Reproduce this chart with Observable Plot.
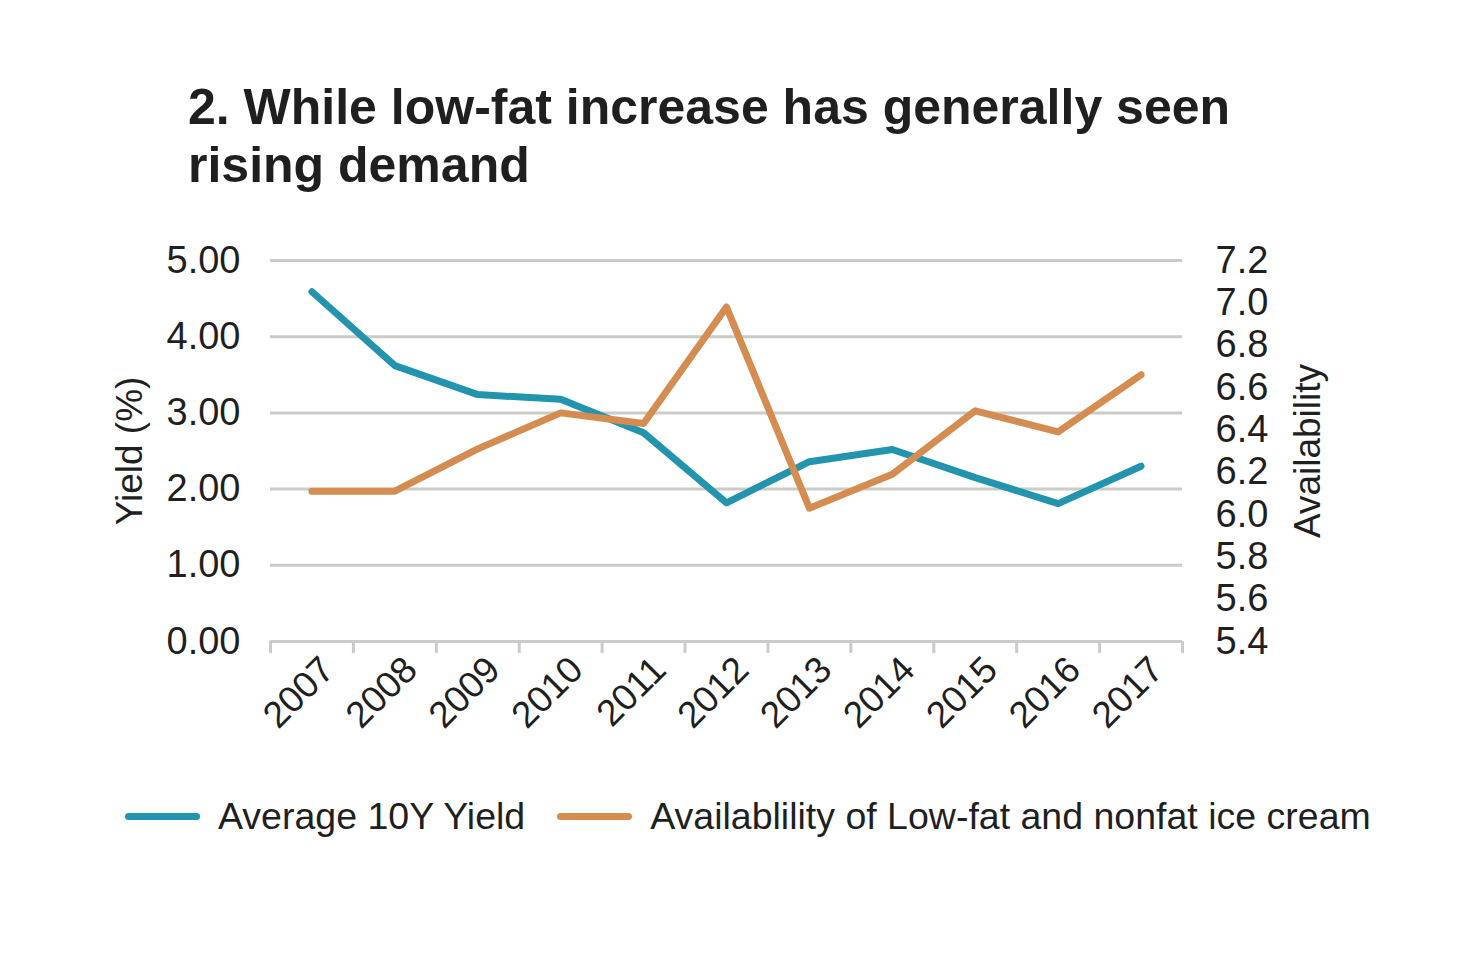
<!DOCTYPE html>
<html>
<head>
<meta charset="utf-8">
<script src="https://cdn.jsdelivr.net/npm/d3@7"></script>
<script src="https://cdn.jsdelivr.net/npm/@observablehq/plot@0.6"></script>
<style>
  html, body { margin: 0; padding: 0; background: #fff; }
  body { width: 1464px; height: 968px; position: relative; overflow: hidden;
         font-family: "Liberation Sans", Arial, Helvetica, sans-serif; color: #1f1f1f; }
  #title { position: absolute; left: 188px; top: 78px; font-size: 50px; font-weight: bold;
           line-height: 58px; width: 1200px; color: #1f1f1f; }
  #chart { position: absolute; left: 0; top: 200px; }
  #legend { position: absolute; left: 125px; top: 796px; height: 40px; display: flex;
            align-items: center; font-size: 37.5px; line-height: 40px; color: #1f1f1f; white-space: nowrap; }
  .sw { display: inline-block; width: 75px; height: 7px; border-radius: 4px; margin-right: 18px; }
  .item { display: flex; align-items: center; margin-right: 32px; }
</style>
</head>
<body>
<div id="title">2. While low-fat increase has generally seen<br>rising demand</div>
<div id="chart"></div>
<div id="legend"></div>
<script>
const years = [2007, 2008, 2009, 2010, 2011, 2012, 2013, 2014, 2015, 2016, 2017];
const yieldValues = [4.59, 3.62, 3.24, 3.18, 2.74, 1.82, 2.36, 2.52, 2.15, 1.81, 2.30];
const availabilityValues = [6.11, 6.11, 6.31, 6.48, 6.43, 6.98, 6.03, 6.19, 6.49, 6.39, 6.66];
const yieldTicks = [0, 1, 2, 3, 4, 5];
const availabilityTicks = [5.4, 5.6, 5.8, 6.0, 6.2, 6.4, 6.6, 6.8, 7.0, 7.2];
const seriesNames = ["Average 10Y Yield", "Availablility of Low-fat and nonfat ice cream"];
const seriesColors = ["#2294ae", "#d58c51"];
const axisTitles = ["Yield (%)", "Availability"];

const yieldDomain = [0, 5];
const availDomain = [5.4, 7.2];
const a2y = v => (v - availDomain[0]) / (availDomain[1] - availDomain[0]) * (yieldDomain[1] - yieldDomain[0]) + yieldDomain[0];
const y2a = v => (v - yieldDomain[0]) / (yieldDomain[1] - yieldDomain[0]) * (availDomain[1] - availDomain[0]) + availDomain[0];

const yieldData = years.map((yr, i) => ({year: yr, value: yieldValues[i]}));
const availData = years.map((yr, i) => ({year: yr, value: a2y(availabilityValues[i])}));
const bandEdges = [...years.map(y => y - 0.5), years[years.length - 1] + 0.5];

const gridColor = "#cbcbc7";
const font = "'Liberation Sans', Arial, Helvetica, sans-serif";

const plot = Plot.plot({
  width: 1464,
  height: 600,
  marginTop: 60,
  marginBottom: 159,
  marginLeft: 270,
  marginRight: 282,
  style: {fontFamily: font, fontSize: "37px", color: "#1f1f1f", background: "transparent"},
  x: {type: "linear", domain: [years[0] - 0.5, years[years.length - 1] + 0.5]},
  y: {domain: yieldDomain},
  marks: [
    Plot.ruleY(yieldTicks.filter(d => d > 0), {stroke: gridColor, strokeWidth: 3}),
    Plot.ruleY([0], {stroke: gridColor, strokeWidth: 3}),
    Plot.axisX(bandEdges, {tickSize: 12, tickFormat: () => "", stroke: gridColor, strokeWidth: 3, label: null}),
    Plot.axisX(years, {tickSize: 0, tickPadding: 22, tickRotate: -45, tickFormat: d => String(d), fontSize: 37, label: null, dx: 16}),
    Plot.axisY(yieldTicks, {anchor: "left", tickSize: 0, tickPadding: 30, tickFormat: d => d.toFixed(2), fontSize: 38, label: null}),
    Plot.axisY(availabilityTicks.map(a2y), {anchor: "right", tickSize: 0, tickPadding: 33, tickFormat: d => y2a(d).toFixed(1), fontSize: 38, label: null}),
    Plot.text([axisTitles[0]], {frameAnchor: "left", dx: -140, rotate: -90, textAnchor: "middle", fontSize: 37, fill: "#1f1f1f"}),
    Plot.text([axisTitles[1]], {frameAnchor: "right", dx: 126, rotate: -90, textAnchor: "middle", fontSize: 37, fill: "#1f1f1f"}),
    Plot.line(yieldData, {x: "year", y: "value", stroke: seriesColors[0], strokeWidth: 7, strokeLinejoin: "round", strokeLinecap: "round"}),
    Plot.line(availData, {x: "year", y: "value", stroke: seriesColors[1], strokeWidth: 7, strokeLinejoin: "round", strokeLinecap: "round"})
  ]
});
document.getElementById("chart").appendChild(plot);

const legend = document.getElementById("legend");
seriesNames.forEach((name, i) => {
  const item = document.createElement("div");
  item.className = "item";
  const sw = document.createElement("span");
  sw.className = "sw";
  sw.style.background = seriesColors[i];
  const label = document.createElement("span");
  label.textContent = name;
  item.appendChild(sw);
  item.appendChild(label);
  legend.appendChild(item);
});
</script>
</body>
</html>
